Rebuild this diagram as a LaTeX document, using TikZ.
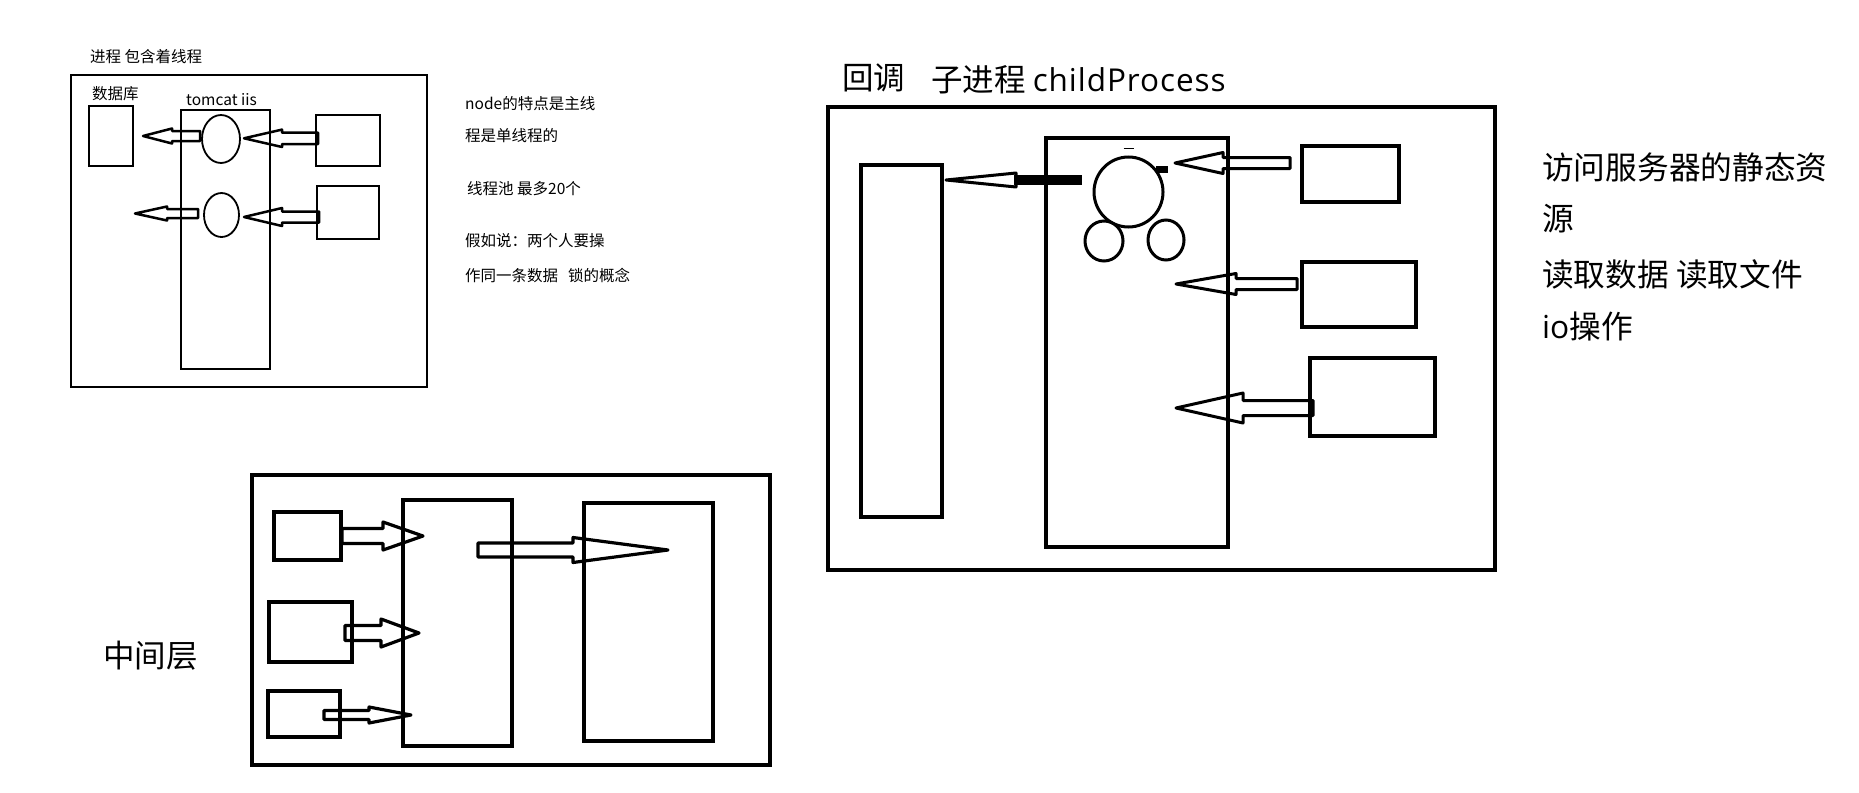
\documentclass[tikz,border=0pt]{standalone}
\usepackage{fontspec}
\setmainfont{Noto Sans CJK SC}
\newfontfamily\lat{Open Sans}
\newfontfamily\latw[LetterSpace=3]{Open Sans}
\usetikzlibrary{fit,shapes.geometric}
\tikzset{
  bx/.style={draw, inner sep=0pt, line width=#1},
  bx/.default=3pt,
  ell/.style={draw, ellipse, inner sep=0pt, line width=#1},
  ell/.default=2pt,
  small/.style={anchor=west, inner sep=0pt, font=\fontsize{15.5}{18}\selectfont},
  big/.style={anchor=west, inner sep=0pt, font=\fontsize{31.5}{36}\selectfont},
}
% hollow block arrow: lw, tail x, base x, tip x, centre y, shaft half, head half
\newcommand\harrowx[7]{%
  \draw[line width=#1, line join=round]
    (#2,{#5-#6}) -- (#3,{#5-#6}) -- (#3,{#5-#7}) -- (#4,#5)
    -- (#3,{#5+#7}) -- (#3,{#5+#6}) -- (#2,{#5+#6}) -- cycle;}
\begin{document}
\begin{tikzpicture}[x=1pt, y=-1pt]
\useasboundingbox (0,0) rectangle (1859,792);
\fill[white] (0,0) rectangle (1859,792);

% ---------- top-left group ----------
\node[small] (t1) at (90,56.5) {进程 包含着线程};
\node[bx=2.7pt, fit={(71,75)(427,387)}] (proc) {};
\node[small] (tdb) at (92,94) {数据库};
\node[bx=2.7pt, fit={(89,106)(133,166)}] (db) {};
\node[small, anchor=base west] (ttom) at (186,105) {tomcat iis};
\node[bx=2pt, fit={(181,110)(270,369)}] (tom) {};
\node[ell=1.8pt, minimum width=38pt, minimum height=48pt] (e1) at (221,139) {};
\node[ell=1.8pt, minimum width=35pt, minimum height=44pt] (e2) at (221.5,215) {};
\node[bx=2pt, fit={(316,115)(380,166)}] (r1) {};
\node[bx=2pt, fit={(317,186)(379,239)}] (r2) {};
\harrowx{2.5pt}{318}{282}{244}{138.3}{5.7}{8.7}
\harrowx{2.5pt}{200}{172}{143}{136}{5}{7.5}
\harrowx{2.5pt}{319}{282}{244}{217}{5.5}{9}
\harrowx{2.5pt}{198}{167}{135}{213.5}{4.5}{7}

% notes
\node[small] (n1) at (465,103.5) {node的特点是主线};
\node[small] (n2) at (465,136) {程是单线程的};
\node[small] (n3) at (467,189) {线程池 最多20个};
\node[small] (n4) at (465,241) {假如说：两个人要操};
\node[small] (n5) at (465,275) {作同一条数据\hspace{10pt}锁的概念};

% ---------- right group ----------
\node[big] (tcb) at (842,78) {回调};
\node[big] (tcp) at (931,80) {子进程 {\latw childProcess}};
\node[bx=4.5pt, fit={(828,107)(1495,570)}] (child) {};
\node[bx=3.8pt, fit={(861,165)(942,517)}] (lrect) {};
\node[bx=3.8pt, fit={(1046,138)(1228,547)}] (mrect) {};
\node[ell=3pt, minimum width=69pt, minimum height=70pt] (c0) at (1128.5,192) {};
\node[ell=3pt, minimum width=38pt, minimum height=40pt] (c1) at (1104,241) {};
\node[ell=3pt, minimum width=36pt, minimum height=40pt] (c2) at (1166,240) {};
\draw[line width=1.5pt] (c0.north) ++(0,-7) coordinate (dash) ++(-5,0) -- ++(10,0);
\fill (1156,166) rectangle (1168,173);
\node[bx=3.8pt, fit={(1302,146)(1399,202)}] (q1) {};
\node[bx=3.8pt, fit={(1302,262)(1416,327)}] (q2) {};
\node[bx=3.8pt, fit={(1310,358)(1435,436)}] (q3) {};
\harrowx{3pt}{1290}{1223}{1175}{163}{5.5}{10.5}
\harrowx{3pt}{1297}{1236}{1176}{284}{5.5}{10.5}
\harrowx{3pt}{1313}{1243}{1176}{408}{7.5}{15}
% callback arrow
\fill (1014,175) rectangle (1082,185);
\draw[line width=3pt, line join=round] (946,180) -- (1016,173) -- (1016,187) -- cycle;

\begin{scope}[every node/.style={big, font=\fontsize{31.7}{36}\selectfont}]
\node (s1) at (1542,167) {访问服务器的静态资};
\node (s2) at (1542,219) {源};
\node (s3) at (1542,274) {读取数据 读取文件};
\node (s4) at (1542,326) {{\lat io}操作};
\end{scope}

% ---------- bottom group ----------
\node[big] (tmid) at (103,656) {中间层};
\node[bx=4.5pt, fit={(252,475)(770,765)}] (mid) {};
\node[bx=3.8pt, fit={(274,512)(341,560)}] (b1) {};
\node[bx=3.8pt, fit={(269,602)(352,662)}] (b2) {};
\node[bx=3.8pt, fit={(268,691)(340,737)}] (b3) {};
\node[bx=3.8pt, fit={(403,500)(512,746)}] (mm) {};
\node[bx=3.8pt, fit={(584,503)(713,741)}] (mr) {};
\harrowx{3.2pt}{342}{383}{423}{536}{7.5}{14}
\harrowx{3.2pt}{345}{381}{419}{633}{7.5}{14}
\harrowx{3.2pt}{324}{369}{411}{715}{4.5}{8}
\harrowx{3.2pt}{478}{573}{668}{550}{7}{12.5}
\end{tikzpicture}
\end{document}
